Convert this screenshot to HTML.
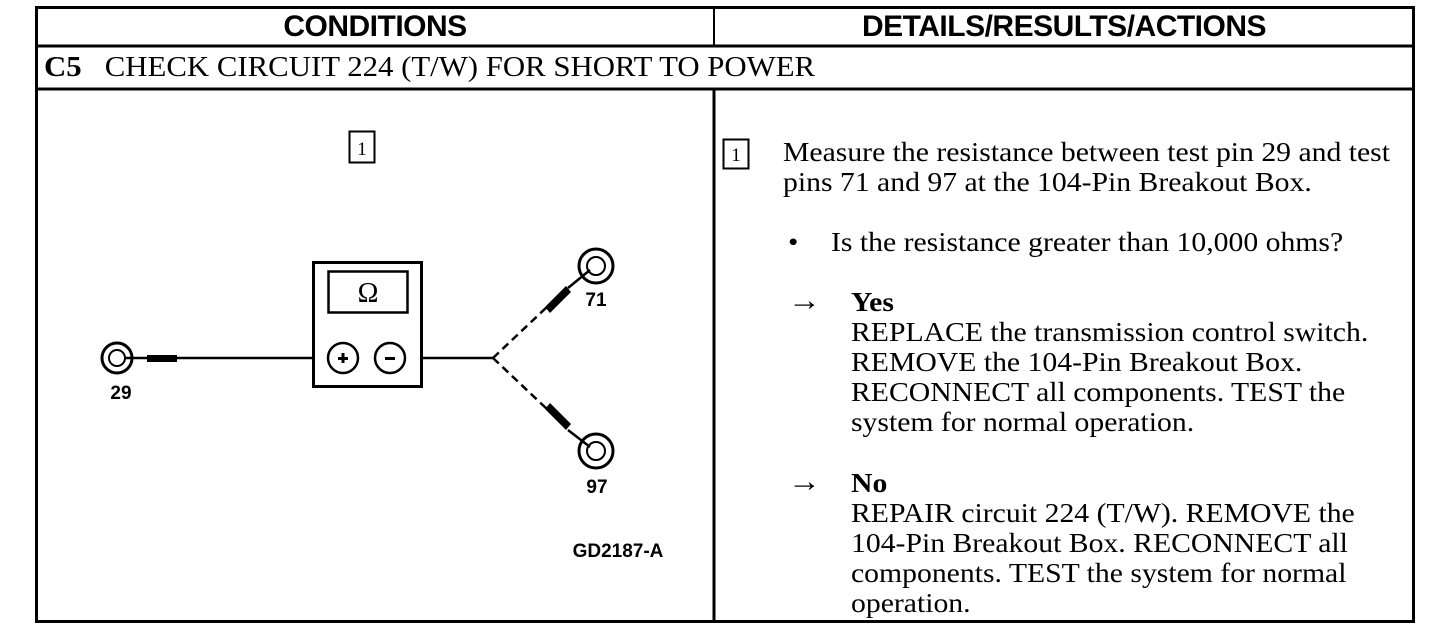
<!DOCTYPE html>
<html><head><meta charset="utf-8"><style>
body{margin:0;width:1456px;height:630px;background:#fff;position:relative;overflow:hidden;font-family:"Liberation Serif",serif;color:#000}
.t{position:absolute;font-size:27px;white-space:nowrap;line-height:30px;transform:scaleX(1.1);transform-origin:0 0}
.h{position:absolute;font-family:"Liberation Sans",sans-serif;font-weight:bold;font-size:30px;text-align:center;top:8px;line-height:38px;letter-spacing:-0.5px}
</style></head><body>
<svg width="1456" height="630" style="position:absolute;left:0;top:0">
<g stroke="#000" fill="none">
<rect x="36.5" y="7.5" width="1377" height="614" stroke-width="3"/>
<line x1="36" y1="46" x2="1414" y2="46" stroke-width="3"/>
<line x1="36" y1="89" x2="1414" y2="89" stroke-width="3"/>
<line x1="714" y1="7" x2="714" y2="46" stroke-width="2"/>
<line x1="714" y1="89" x2="714" y2="622" stroke-width="3"/>
<rect x="349.5" y="131.5" width="25" height="31" stroke-width="2"/>
<rect x="723.5" y="139.5" width="25" height="29" stroke-width="2"/>
<circle cx="117" cy="358" r="15" stroke-width="3"/>
<circle cx="117" cy="358" r="8" stroke-width="2"/>
<line x1="125" y1="358" x2="313" y2="358" stroke-width="2.5"/>
<rect x="313.5" y="262.5" width="108" height="124" stroke-width="3"/>
<rect x="328.5" y="271.5" width="79" height="41" stroke-width="2.5"/>
<circle cx="343" cy="358" r="15" stroke-width="2.5"/>
<circle cx="390" cy="358" r="15" stroke-width="2.5"/>
<line x1="422" y1="358" x2="493" y2="358" stroke-width="2.5"/>
<line x1="493" y1="358" x2="548" y2="306" stroke-width="2.5" stroke-dasharray="8,5"/>
<line x1="493" y1="358" x2="548" y2="410" stroke-width="2.5" stroke-dasharray="8,5"/>
<line x1="568" y1="288" x2="590" y2="270" stroke-width="2.5"/>
<line x1="568" y1="430" x2="590" y2="447" stroke-width="2.5"/>
<circle cx="596" cy="266" r="17" stroke-width="3"/>
<circle cx="596" cy="266" r="9" stroke-width="2"/>
<circle cx="596" cy="451" r="17" stroke-width="3"/>
<circle cx="596" cy="451" r="9" stroke-width="2"/>
</g>
<g fill="#000">
<rect x="147" y="355" width="30" height="7"/>
<polygon points="545,307 566,286 571,292 550,313"/>
<polygon points="545,409 566,430 571,424 550,403"/>
<rect x="385" y="357" width="10" height="3"/>
<rect x="338" y="357" width="10" height="3"/><rect x="341.5" y="353" width="3" height="10"/>
</g>
<g font-family="Liberation Sans,sans-serif" font-weight="bold" font-size="19" text-anchor="middle">
<text x="121" y="399">29</text><text x="596" y="306">71</text><text x="597" y="493">97</text>
<text x="618" y="557">GD2187-A</text>
</g>
<text x="368" y="302" font-size="28" text-anchor="middle" font-family="Liberation Serif,serif">Ω</text>
<text x="362" y="155" font-size="19" text-anchor="middle" font-family="Liberation Serif,serif">1</text>
<text x="736" y="161" font-size="19" text-anchor="middle" font-family="Liberation Serif,serif">1</text>
</svg>
<div class="h" style="left:36px;width:678px">CONDITIONS</div>
<div class="h" style="left:714px;width:700px">DETAILS/RESULTS/ACTIONS</div>
<div class="t" style="left:44px;top:53px;font-size:28px;transform:scaleX(1.1)"><b>C5</b>&nbsp;&nbsp;&nbsp;CHECK CIRCUIT 224 (T/W) FOR SHORT TO POWER</div>
<div class="t" style="left:783px;top:137px">Measure the resistance between test pin 29 and test</div>
<div class="t" style="left:783px;top:167px">pins 71 and 97 at the 104-Pin Breakout Box.</div>
<div class="t" style="left:788px;top:227px">•</div>
<div class="t" style="left:831px;top:227px">Is the resistance greater than 10,000 ohms?</div>
<div class="t" style="left:788px;top:286px;font-size:30px">→</div>
<div class="t" style="left:851px;top:287px"><b>Yes</b></div>
<div class="t" style="left:851px;top:317px">REPLACE the transmission control switch.</div>
<div class="t" style="left:851px;top:347px">REMOVE the 104-Pin Breakout Box.</div>
<div class="t" style="left:851px;top:377px">RECONNECT all components. TEST the</div>
<div class="t" style="left:851px;top:407px">system for normal operation.</div>
<div class="t" style="left:788px;top:467px;font-size:30px">→</div>
<div class="t" style="left:851px;top:468px"><b>No</b></div>
<div class="t" style="left:851px;top:498px">REPAIR circuit 224 (T/W). REMOVE the</div>
<div class="t" style="left:851px;top:528px">104-Pin Breakout Box. RECONNECT all</div>
<div class="t" style="left:851px;top:558px">components. TEST the system for normal</div>
<div class="t" style="left:851px;top:588px">operation.</div>
</body></html>
